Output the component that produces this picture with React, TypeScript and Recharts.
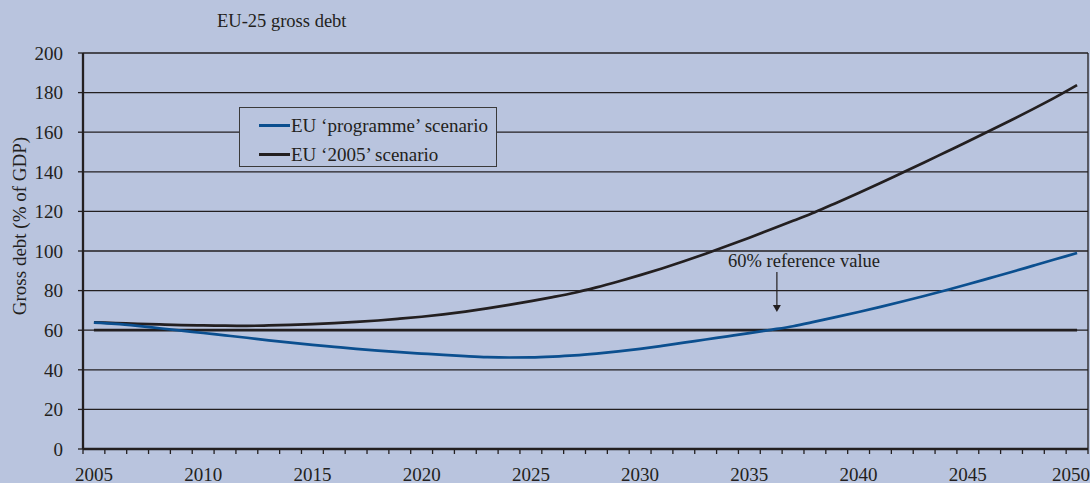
import React from 'react';
import {
  LineChart,
  Line,
  XAxis,
  YAxis,
  CartesianGrid,
  ReferenceLine,
  ReferenceDot,
} from 'recharts';

const years = [
  2005, 2006, 2007, 2008, 2009, 2010, 2011, 2012, 2013, 2014, 2015, 2016,
  2017, 2018, 2019, 2020, 2021, 2022, 2023, 2024, 2025, 2026, 2027, 2028,
  2029, 2030, 2031, 2032, 2033, 2034, 2035, 2036, 2037, 2038, 2039, 2040,
  2041, 2042, 2043, 2044, 2045, 2046, 2047, 2048, 2049, 2050,
];

// EU 'programme' scenario
const programme = [
  63.8, 63.2, 62.2, 61.0, 59.8, 58.6, 57.4, 56.2, 54.9, 53.7, 52.6, 51.6,
  50.6, 49.7, 48.9, 48.2, 47.5, 46.9, 46.4, 46.2, 46.3, 46.7, 47.3, 48.2,
  49.3, 50.6, 52.1, 53.7, 55.3, 56.9, 58.5, 60.2, 62.0, 64.3, 66.7, 69.2,
  71.8, 74.5, 77.3, 80.2, 83.2, 86.3, 89.4, 92.6, 95.8, 99.0,
];

// EU '2005' scenario
const scenario2005 = [
  64.0, 63.6, 63.2, 62.9, 62.6, 62.4, 62.3, 62.2, 62.4, 62.7, 63.1, 63.6,
  64.2, 64.9, 65.8, 66.8, 68.0, 69.4, 71.0, 72.8, 74.7, 76.7, 78.9, 81.6,
  84.6, 87.8, 91.2, 94.8, 98.6, 102.6, 106.7, 111.0, 115.3, 119.6, 124.4, 129.3,
  134.3, 139.5, 144.7, 150.0, 155.3, 160.7, 166.2, 171.8, 177.6, 183.8,
];

const labelYears = [2005, 2010, 2015, 2020, 2025, 2030, 2035, 2040, 2045, 2050];
const yTicks = [0, 20, 40, 60, 80, 100, 120, 140, 160, 180, 200];
const referenceValue = 60;

const BG = '#b9c4de';
const INK = '#231f20';
const BLUE = '#0b4f8f';
const FONT = '"Liberation Serif", "Times New Roman", serif';

const data = years.map((year, i) => ({
  year,
  programme: programme[i],
  scenario2005: scenario2005[i],
}));

// tick marks sit on year boundaries, labels in the middle of each year
const xTicks = [years[0] - 0.5, ...years.map((y) => y + 0.5)];

const series = [
  { key: 'programme', name: 'EU \u2018programme\u2019 scenario', color: BLUE },
  { key: 'scenario2005', name: 'EU \u20182005\u2019 scenario', color: INK },
];

const YearTick = (props: any) => {
  const { x, y, payload } = props;
  const year = payload.value + 0.5;
  if (!labelYears.includes(year)) return null;
  const half = 21.85 / 2;
  const cx = Math.min(x + half, 1071);
  return (
    <text x={cx} y={y + 25} textAnchor="middle" fill={INK} fontSize={19} fontFamily={FONT}>
      {year}
    </text>
  );
};

const YLabel = (props: any) => {
  const vb = props.viewBox;
  const x = 19;
  const y = vb.y + vb.height / 2 - 25;
  return (
    <text
      x={x}
      y={y}
      transform={`rotate(-90, ${x}, ${y})`}
      textAnchor="middle"
      dominantBaseline="central"
      fill={INK}
      fontSize={19}
      fontFamily={FONT}
    >
      Gross debt (% of GDP)
    </text>
  );
};

const Arrow = (props: any) => {
  const { x1, y1, x2, y2 } = props;
  return (
    <g>
      <line x1={x1} y1={y1} x2={x2} y2={y2 - 6} stroke={INK} strokeWidth={1.2} />
      <polygon points={`${x2 - 4},${y2 - 7} ${x2 + 4},${y2 - 7} ${x2},${y2}`} fill={INK} />
    </g>
  );
};

const RefText = (props: any) => (
  <text x={props.cx} y={props.cy} textAnchor="middle" fill={INK} fontSize={18.5} fontFamily={FONT}>
    60% reference value
  </text>
);

export default function App() {
  return (
    <div style={styles.page}>
      <div style={styles.title}>EU-25 gross debt</div>
      <LineChart
        width={1090}
        height={483}
        data={data}
        margin={{ top: 53, right: 2, left: 0, bottom: 0 }}
      >
        <CartesianGrid horizontal vertical={false} stroke={INK} strokeWidth={1.3} />
        <XAxis
          dataKey="year"
          type="number"
          domain={[xTicks[0], xTicks[xTicks.length - 1]]}
          ticks={xTicks}
          interval={0}
          height={34}
          axisLine={{ stroke: INK, strokeWidth: 2.3 }}
          tickLine={{ stroke: INK, strokeWidth: 1.3 }}
          tickSize={5}
          tick={<YearTick />}
        />
        <YAxis
          domain={[0, 200]}
          ticks={yTicks}
          interval={0}
          width={83}
          axisLine={{ stroke: INK, strokeWidth: 2.3 }}
          tickLine={{ stroke: INK, strokeWidth: 1.3 }}
          tickSize={5}
          tickMargin={15}
          tick={{ fill: INK, fontSize: 19, fontFamily: FONT }}
          label={<YLabel />}
        />
        <ReferenceLine x={xTicks[xTicks.length - 1]} stroke={INK} strokeWidth={1.3} />
        <ReferenceLine
          segment={[
            { x: years[0], y: referenceValue },
            { x: years[years.length - 1], y: referenceValue },
          ]}
          stroke={INK}
          strokeWidth={2.7}
        />
        <Line
          dataKey="scenario2005"
          type="monotone"
          stroke={INK}
          strokeWidth={2.7}
          dot={false}
          isAnimationActive={false}
        />
        <Line
          dataKey="programme"
          type="monotone"
          stroke={BLUE}
          strokeWidth={2.7}
          dot={false}
          isAnimationActive={false}
        />
        <ReferenceLine
          segment={[
            { x: 2036.26, y: 89.4 },
            { x: 2036.26, y: 69.2 },
          ]}
          shape={<Arrow />}
        />
        <ReferenceDot x={2037.5} y={91.9} r={0} shape={<RefText />} />
      </LineChart>
      <div style={styles.legend}>
        {series.map((s) => (
          <div key={s.key} style={styles.legendRow}>
            <span style={{ ...styles.legendLine, backgroundColor: s.color }} />
            <span>{s.name}</span>
          </div>
        ))}
      </div>
    </div>
  );
}

const styles: { [key: string]: React.CSSProperties } = {
  page: {
    position: 'absolute',
    left: 0,
    top: 0,
    width: 1090,
    height: 483,
    backgroundColor: BG,
    overflow: 'hidden',
  },
  title: {
    position: 'absolute',
    left: 217,
    top: 11,
    fontFamily: FONT,
    fontSize: 18.5,
    color: INK,
    whiteSpace: 'nowrap',
  },
  legend: {
    position: 'absolute',
    left: 239,
    top: 107,
    width: 258,
    height: 60,
    boxSizing: 'border-box',
    border: '1px solid #3a3a3a',
    backgroundColor: BG,
    paddingTop: 3,
    fontFamily: FONT,
    fontSize: 19,
    color: INK,
  },
  legendRow: {
    display: 'flex',
    alignItems: 'center',
    height: 29,
    paddingLeft: 19,
    whiteSpace: 'nowrap',
  },
  legendLine: {
    display: 'inline-block',
    width: 31,
    height: 2.5,
    marginRight: 1,
  },
};
